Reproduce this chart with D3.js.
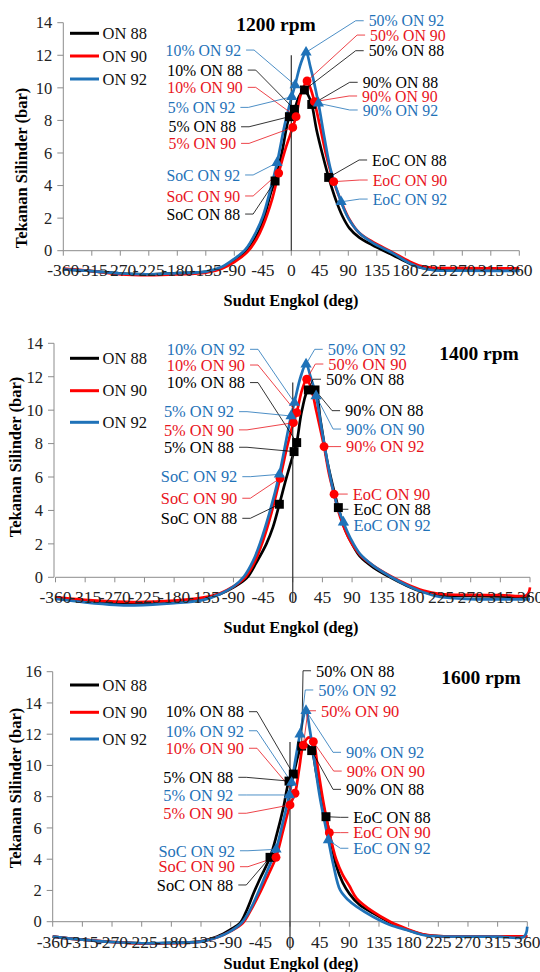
<!DOCTYPE html>
<html>
<head>
<meta charset="utf-8">
<script src="https://cdn.jsdelivr.net/npm/d3@7/dist/d3.min.js"></script>
<style>
  body { margin: 0; background: #fff; }
  svg { display: block; }
  svg text { font-family: "Liberation Serif", "DejaVu Serif", serif; }
</style>
</head>
<body>
<div id="chart"></div>
<script>
// crank angle ticks and series
const angleTicks = [-360, -315, -270, -225, -180, -135, -90, -45, 0, 45, 90, 135, 180, 225, 270, 315, 360];
const seriesNames = ["ON 88", "ON 90", "ON 92"];
const markerNames = ["SoC", "5%", "10%", "50%", "90%", "EoC"];

// ---- 1200 rpm : [deg, bar]
const p1200_on88 = [[-360,-1.15],[-315,-1.25],[-270,-1.4],[-225,-1.45],[-180,-1.38],[-135,-1.3],[-110,-1.05],[-90,-0.6],[-70,0],[-55,0.9],[-45,1.75],[-32,3.6],[-25.6,4.28],[-15,6.0],[-3,8.23],[4.9,8.68],[12,9.45],[20.7,9.87],[26,9.6],[32.3,8.98],[40,7.4],[50,5.8],[59,4.5],[70,3.15],[81,2.1],[92,1.37],[107,0.82],[128,0.35],[160,-0.26],[186,-0.77],[202,-1.02],[225,-1.18],[270,-1.22],[315,-1.23],[360,-1.23]];
const p1200_on90 = [[-360,-1.1],[-315,-1.25],[-270,-1.45],[-225,-1.5],[-180,-1.45],[-135,-1.35],[-110,-1.1],[-90,-0.7],[-70,-0.1],[-55,0.7],[-45,1.5],[-30,3.2],[-19.9,4.77],[-8,6.4],[2.3,7.57],[7.5,8.23],[15,9.6],[24.9,10.42],[30,10.0],[36.5,9.15],[45,7.7],[55,5.9],[67,4.24],[80,2.9],[92,1.9],[107,1.1],[128,0.55],[160,-0.1],[186,-0.65],[205,-0.95],[225,-1.05],[270,-1.07],[315,-1.08],[360,-1.08]];
const p1200_on92 = [[-360,-1.15],[-315,-1.25],[-270,-1.4],[-225,-1.45],[-180,-1.38],[-135,-1.28],[-110,-1.0],[-90,-0.5],[-72,0.1],[-55,1.2],[-45,2.1],[-32,3.9],[-22.5,5.4],[-10,7.8],[0.7,9.45],[6,10.17],[15,11.5],[23.3,12.18],[30,11.3],[42.8,9.05],[52,7.0],[62,5.0],[78.6,3.0],[90,2.0],[107,1.1],[128,0.5],[160,-0.15],[186,-0.75],[205,-1.05],[225,-1.2],[270,-1.23],[315,-1.24],[360,-1.24]];
const m1200_on88 = [[-25.6,4.28],[-3,8.23],[4.9,8.68],[20.7,9.87],[32.3,8.98],[59,4.5]];
const m1200_on90 = [[-19.9,4.77],[2.3,7.57],[7.5,8.23],[24.9,10.42],[36.5,9.15],[67,4.24]];
const m1200_on92 = [[-22.5,5.4],[0.7,9.45],[6,10.17],[23.3,12.18],[42.8,9.05],[78.6,3.0]];
// label: text, series index, marker index, deg, bar
const lab1200 = [
  ["10% ON 92", 2, 2, -79.3, 12.32], ["10% ON 88", 0, 2, -76.7, 11.09], ["10% ON 90", 1, 2, -76.7, 10.03],
  ["5% ON 92", 2, 1, -88.3, 8.80], ["5% ON 88", 0, 1, -87.2, 7.61], ["5% ON 90", 1, 1, -87.2, 6.59],
  ["SoC ON 92", 2, 0, -80.8, 4.65], ["SoC ON 90", 1, 0, -80.8, 3.36], ["SoC ON 88", 0, 0, -80.8, 2.25],
  ["50% ON 92", 2, 3, 122.2, 14.12], ["50% ON 90", 1, 3, 124.4, 13.24], ["50% ON 88", 0, 3, 122.2, 12.28],
  ["90% ON 88", 0, 4, 112.7, 10.34], ["90% ON 90", 1, 4, 111.8, 9.50], ["90% ON 92", 2, 4, 112.7, 8.64],
  ["EoC ON 88", 0, 5, 127.6, 5.57], ["EoC ON 90", 1, 5, 128.5, 4.34], ["EoC ON 92", 2, 5, 128.5, 3.17]
];

// ---- 1400 rpm
const p1400_on88 = [[-360,-1.26],[-315,-1.4],[-270,-1.55],[-240,-1.6],[-180,-1.5],[-135,-1.3],[-110,-1.0],[-90,-0.6],[-70,-0.05],[-55,0.9],[-40,2.0],[-30,3.0],[-20.3,4.37],[-10,5.9],[2,7.52],[6,8.06],[14,10.0],[23.7,11.21],[33.8,11.21],[42,9.4],[52,7.0],[60,5.6],[69.2,4.17],[80,2.8],[90,2.0],[102,1.25],[122,0.6],[148,0.0],[173,-0.5],[198,-0.88],[224,-1.08],[270,-1.12],[315,-1.15],[355,-1.15],[360,-1.1]];
const p1400_on90 = [[-360,-1.2],[-315,-1.35],[-270,-1.45],[-240,-1.48],[-180,-1.4],[-135,-1.2],[-110,-0.95],[-90,-0.55],[-72,0],[-58,0.9],[-45,2.2],[-32,3.9],[-19.3,5.92],[-8,7.9],[1,9.25],[6,9.85],[14,11.2],[21.2,11.85],[28,11.3],[36,9.9],[47.5,7.82],[55,6.2],[62.7,4.97],[72,3.6],[85,2.35],[102,1.35],[122,0.7],[148,0.08],[173,-0.42],[198,-0.8],[224,-1.0],[270,-1.05],[315,-1.06],[355,-1.06],[360,-0.6]];
const p1400_on92 = [[-360,-1.3],[-315,-1.5],[-270,-1.65],[-240,-1.68],[-180,-1.55],[-135,-1.35],[-110,-1.0],[-90,-0.55],[-74,0.05],[-60,1.0],[-50,2.0],[-35,3.9],[-20.3,6.16],[-10,8.2],[-2.6,9.65],[2.5,10.45],[12,12.0],[20.2,12.75],[27,12.0],[35.4,10.85],[45,8.6],[55,6.4],[65,4.6],[76.8,3.29],[88,2.3],[102,1.4],[122,0.7],[148,0.05],[173,-0.48],[198,-0.9],[224,-1.18],[270,-1.3],[315,-1.32],[360,-1.32]];
const m1400_on88 = [[-20.3,4.37],[2,7.52],[6,8.06],[23.7,11.21],[33.8,11.21],[69.2,4.17]];
const m1400_on90 = [[-19.3,5.92],[1,9.25],[6,9.85],[21.2,11.85],[47.5,7.82],[62.7,4.97]];
const m1400_on92 = [[-20.3,6.16],[-2.6,9.65],[2.5,10.45],[20.2,12.75],[35.4,10.85],[76.8,3.29]];
const lab1400 = [
  ["10% ON 92", 2, 2, -72.4, 13.64], ["10% ON 90", 1, 2, -72.4, 12.70], ["10% ON 88", 0, 2, -72.4, 11.65],
  ["5% ON 92", 2, 1, -89.1, 9.91], ["5% ON 90", 1, 1, -89.1, 8.82], ["5% ON 88", 0, 1, -89.1, 7.78],
  ["SoC ON 92", 2, 0, -84.1, 6.02], ["SoC ON 90", 1, 0, -84.1, 4.73], ["SoC ON 88", 0, 0, -84.1, 3.53],
  ["50% ON 92", 2, 3, 53.1, 13.64], ["50% ON 90", 1, 3, 54.0, 12.76], ["50% ON 88", 0, 3, 50.5, 11.85],
  ["90% ON 88", 0, 4, 79.4, 9.97], ["90% ON 90", 2, 4, 80.9, 8.87], ["90% ON 92", 1, 4, 80.9, 7.82],
  ["EoC ON 90", 1, 5, 91.0, 4.98], ["EoC ON 88", 0, 5, 92.0, 4.07], ["EoC ON 92", 2, 5, 92.0, 3.13]
];

// ---- 1600 rpm
const p1600_on88 = [[-360,-0.95],[-315,-1.15],[-270,-1.3],[-225,-1.38],[-180,-1.35],[-135,-1.25],[-110,-0.95],[-90,-0.5],[-76,-0.1],[-65,0.8],[-55,1.85],[-45,2.8],[-30.3,4.12],[-20,5.6],[-10,7.3],[-1.5,9.0],[5,9.45],[12,10.6],[17.7,11.24],[25,11.3],[32.9,10.95],[40,9.5],[47,8.0],[54.6,6.72],[62,5.2],[70,3.6],[80,2.5],[90,1.8],[105,1.1],[126,0.55],[152,-0.05],[177,-0.5],[202,-0.82],[225,-0.92],[270,-0.93],[315,-0.93],[360,-0.93]];
const p1600_on90 = [[-360,-0.95],[-315,-1.15],[-270,-1.3],[-225,-1.4],[-180,-1.38],[-135,-1.28],[-110,-1.0],[-90,-0.6],[-72,-0.1],[-60,0.7],[-45,1.9],[-33,3.0],[-21.2,4.12],[-10,5.9],[0,7.47],[7.6,8.22],[14,9.8],[20.2,11.3],[29,11.8],[35.4,11.52],[42,9.9],[50,7.8],[59.7,5.7],[70,4.0],[80,3.0],[90,2.3],[101,1.5],[126,0.64],[152,0.0],[177,-0.45],[202,-0.8],[225,-0.92],[270,-0.93],[315,-0.93],[360,-0.93]];
const p1600_on92 = [[-360,-0.95],[-315,-1.15],[-270,-1.3],[-225,-1.38],[-180,-1.35],[-135,-1.28],[-110,-1.0],[-90,-0.6],[-74,-0.1],[-60,0.8],[-48,1.9],[-35,3.2],[-21.2,4.63],[-10,6.5],[-1,8.11],[2.5,8.9],[8,10.3],[15.2,12.0],[24.3,13.5],[30,12.3],[38,10.0],[46,7.8],[58.2,5.23],[66,3.6],[76,2.03],[88,1.4],[101,0.96],[126,0.32],[152,-0.21],[177,-0.53],[202,-0.85],[225,-0.93],[270,-0.95],[315,-0.95],[355,-0.95],[360,-0.32]];
const m1600_on88 = [[-30.3,4.12],[-1.5,9.0],[5,9.45],[17.7,11.24],[32.9,10.95],[54.6,6.72]];
const m1600_on90 = [[-21.2,4.12],[0,7.47],[7.6,8.22],[20.2,11.3],[35.4,11.52],[59.7,5.7]];
const m1600_on92 = [[-21.2,4.63],[-1,8.11],[2.5,8.9],[15.2,12.0],[24.3,13.5],[58.2,5.23]];
const lab1600 = [
  ["10% ON 88", 0, 2, -69.8, 13.44], ["10% ON 92", 2, 2, -69.8, 12.22], ["10% ON 90", 1, 2, -69.8, 11.10],
  ["5% ON 88", 0, 1, -86.0, 9.24], ["5% ON 92", 2, 1, -86.0, 8.11], ["5% ON 90", 1, 1, -86.0, 6.94],
  ["SoC ON 92", 2, 0, -83.5, 4.54], ["SoC ON 90", 1, 0, -83.5, 3.52], ["SoC ON 88", 0, 0, -86.0, 2.35],
  ["50% ON 88", 0, 3, 39.5, 16.06], ["50% ON 92", 2, 3, 42.9, 14.83], ["50% ON 90", 1, 3, 47.0, 13.50],
  ["90% ON 92", 2, 4, 85.0, 10.84], ["90% ON 90", 1, 4, 86.0, 9.64], ["90% ON 88", 0, 4, 85.0, 8.47],
  ["EoC ON 88", 0, 5, 96.1, 6.68], ["EoC ON 90", 1, 5, 96.1, 5.70], ["EoC ON 92", 2, 5, 96.1, 4.70]
];

// styles
const FONT = "'Liberation Serif', 'DejaVu Serif', serif";
const lineColors = ["#000000", "#ff0000", "#1f72b8"];
const textColors = ["#000000", "#e8141c", "#1f72b8"];
const symbols = [d3.symbolSquare, d3.symbolCircle, d3.symbolTriangle];
const symbolSizes = [80, 62, 54];

const panels = [
  { title: "1200 rpm", curves: [p1200_on88, p1200_on90, p1200_on92], marks: [m1200_on88, m1200_on90, m1200_on92], labels: lab1200,
    yMax: 14, left: 63.3, right: 519.3, top: 22.7, zero: 250.7, yAxisX: 63.3, tickLabY: 269.5, xTitleY: 300,
    yTitle: [21.5, 168], titleXY: [276, 24], legendY: [33.3, 56, 79], vline: [12, 0], labFont: 15.8 },
  { title: "1400 rpm", curves: [p1400_on88, p1400_on90, p1400_on92], marks: [m1400_on88, m1400_on90, m1400_on92], labels: lab1400,
    yMax: 14, left: 55.5, right: 530, top: 343.3, zero: 577.3, yAxisX: 54, tickLabY: 596.5, xTitleY: 627,
    yTitle: [15, 457], titleXY: [479, 353.5], legendY: [358.3, 390.7, 422.3], vline: [11.65, -1.5], labFont: 16.4 },
  { title: "1600 rpm", curves: [p1600_on88, p1600_on90, p1600_on92], marks: [m1600_on88, m1600_on90, m1600_on92], labels: lab1600,
    yMax: 16, left: 52.7, right: 527.3, top: 671.7, zero: 921.7, yAxisX: 52.7, tickLabY: 942, xTitleY: 963.5,
    yTitle: [15, 788], titleXY: [481, 677.5], legendY: [685, 712.3, 739], vline: [11.5, -1.8], labFont: 16.4 }
];

const svg = d3.select("#chart").append("svg")
  .attr("width", 540)
  .attr("height", 972)
  .attr("font-family", FONT);

svg.append("rect").attr("width", 540).attr("height", 972).attr("fill", "#fff");

panels.forEach(p => {
  const x = d3.scaleLinear().domain([-360, 360]).range([p.left, p.right]);
  const y = d3.scaleLinear().domain([0, p.yMax]).range([p.zero, p.top]);
  const g = svg.append("g").attr("font-family", FONT);

  // y axis
  const yTicks = d3.range(0, p.yMax + 1, 2);
  g.append("line")
    .attr("x1", p.yAxisX).attr("x2", p.yAxisX)
    .attr("y1", y(p.yMax)).attr("y2", y(0))
    .attr("stroke", "#8c8c8c").attr("stroke-width", 1);
  g.selectAll(".ytick").data(yTicks).enter().append("line")
    .attr("x1", p.yAxisX - 6).attr("x2", p.yAxisX)
    .attr("y1", d => y(d)).attr("y2", d => y(d))
    .attr("stroke", "#8c8c8c");
  g.selectAll(".ylab").data(yTicks).enter().append("text")
    .attr("x", p.yAxisX - 11).attr("y", d => y(d)).attr("dy", "0.35em")
    .attr("text-anchor", "end").attr("font-size", 16.5).attr("fill", "#222")
    .text(d => d);

  // x axis at 0
  g.append("line")
    .attr("x1", x(-360)).attr("x2", x(360))
    .attr("y1", y(0)).attr("y2", y(0))
    .attr("stroke", "#8c8c8c");
  g.selectAll(".xtick").data(angleTicks).enter().append("line")
    .attr("x1", d => x(d)).attr("x2", d => x(d))
    .attr("y1", y(0)).attr("y2", y(0) + 5)
    .attr("stroke", "#8c8c8c");

  // curves
  const line = d3.line()
    .x(d => x(d[0])).y(d => y(d[1]))
    .curve(d3.curveCatmullRom.alpha(0.5));
  p.curves.forEach((c, i) => {
    g.append("path").datum(c)
      .attr("d", line)
      .attr("fill", "none")
      .attr("stroke", lineColors[i])
      .attr("stroke-width", 2.7)
      .attr("stroke-linejoin", "round");
  });

  g.selectAll(".xlab").data(angleTicks).enter().append("text")
    .attr("x", d => x(d)).attr("y", p.tickLabY).attr("dy", "0.35em")
    .attr("text-anchor", "middle").attr("font-size", 17.5).attr("fill", "#222")
    .text(d => d);

  // line at 0 deg
  g.append("line")
    .attr("x1", x(0)).attr("x2", x(0))
    .attr("y1", y(p.vline[0])).attr("y2", y(p.vline[1]))
    .attr("stroke", "#333").attr("stroke-width", 1.2);

  // leader lines + labels
  p.labels.forEach(l => {
    const [txt, s, k, ld, lb] = l;
    const m = p.marks[s][k];
    const mx = x(m[0]), my = y(m[1]);
    const lx = x(ld), ly = y(lb);
    const isLeft = lx < mx;
    const x0 = isLeft ? lx + 5 : lx - 5;
    const x1 = isLeft ? lx + 13 : lx - 13;
    g.append("path")
      .attr("d", `M${x0},${ly}H${x1}L${mx},${my}`)
      .attr("fill", "none")
      .attr("stroke", textColors[s])
      .attr("stroke-width", 0.8);
    g.append("text")
      .attr("x", lx).attr("y", ly).attr("dy", "0.35em")
      .attr("text-anchor", isLeft ? "end" : "start")
      .attr("font-size", p.labFont)
      .attr("fill", textColors[s])
      .text(txt);
  });

  // markers
  p.marks.forEach((ms, i) => {
    g.selectAll(null).data(ms).enter().append("path")
      .attr("transform", d => `translate(${x(d[0])},${y(d[1])})`)
      .attr("d", d3.symbol().type(symbols[i]).size(symbolSizes[i]))
      .attr("fill", lineColors[i]);
  });

  // titles
  g.append("text")
    .attr("x", p.titleXY[0]).attr("y", p.titleXY[1]).attr("dy", "0.35em")
    .attr("text-anchor", "middle").attr("font-size", 19.5).attr("font-weight", "bold")
    .text(p.title);
  g.append("text")
    .attr("x", 291).attr("y", p.xTitleY).attr("dy", "0.35em")
    .attr("text-anchor", "middle").attr("font-size", 16.3).attr("font-weight", "bold")
    .text("Sudut Engkol (deg)");
  g.append("text")
    .attr("transform", `translate(${p.yTitle[0]},${p.yTitle[1]}) rotate(-90)`)
    .attr("dy", "0.35em")
    .attr("text-anchor", "middle").attr("font-size", 16.5).attr("font-weight", "bold")
    .text("Tekanan Silinder (bar)");

  // legend
  seriesNames.forEach((n, i) => {
    g.append("line")
      .attr("x1", 70).attr("x2", 99)
      .attr("y1", p.legendY[i]).attr("y2", p.legendY[i])
      .attr("stroke", lineColors[i]).attr("stroke-width", 3);
    g.append("text")
      .attr("x", 102.5).attr("y", p.legendY[i]).attr("dy", "0.35em")
      .attr("font-size", 16.5).attr("fill", "#111")
      .text(n);
  });
});
</script>
</body>
</html>
